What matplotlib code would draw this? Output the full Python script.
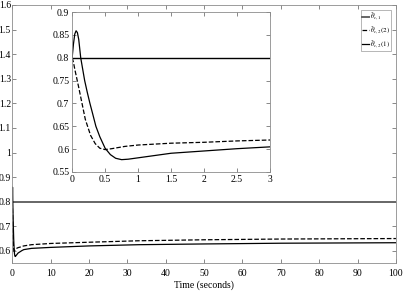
import matplotlib.pyplot as plt

plt.rcParams['font.family'] = ['Liberation Serif', 'DejaVu Serif']
plt.rcParams['mathtext.fontset'] = 'stix'

# read-off points (time in seconds, estimate value)
t_c2_2 = [0, 0.02, 0.04, 0.07, 0.1, 0.15, 0.2, 0.28, 0.35, 0.42, 0.5, 0.6, 0.8, 1.0, 1.5, 2.0, 2.5, 3.0,
          5, 10, 20, 33, 50, 70, 100]
v_c2_2 = [0.8, 0.79, 0.775, 0.755, 0.735, 0.70, 0.665, 0.63, 0.612, 0.602, 0.599, 0.601, 0.606, 0.609,
          0.613, 0.615, 0.618, 0.62, 0.625, 0.63, 0.635, 0.641, 0.645, 0.648, 0.65]

t_c2_1 = [0, 0.02, 0.04, 0.06, 0.08, 0.1, 0.13, 0.16, 0.19, 0.23, 0.27, 0.31, 0.36, 0.42, 0.5, 0.58,
          0.66, 0.75, 0.85, 1.0, 1.5, 2.0, 2.5, 3.0, 5, 10, 20, 33, 50, 70, 100]
v_c2_1 = [0.8, 0.83, 0.852, 0.859, 0.855, 0.84, 0.8, 0.775, 0.75, 0.724, 0.7, 0.678, 0.65, 0.627, 0.602,
          0.588, 0.58, 0.577, 0.578, 0.581, 0.591, 0.596, 0.601, 0.605, 0.61, 0.614, 0.62, 0.625, 0.628,
          0.631, 0.633]

t_c1 = [0, 100]
v_c1 = [0.8, 0.8]

labels = [r'$\hat{\theta}_{c,1}$', r'$\hat{\theta}_{c,2}(2)$', r'$\hat{\theta}_{c,2}(1)$']

fig = plt.figure(figsize=(4.03, 2.94), dpi=100)
ax = fig.add_axes([0.0305, 0.105, 0.952, 0.878])
l1, = ax.plot(t_c1, v_c1, color='0.4', lw=1.4, label=labels[0])
l2, = ax.plot(t_c2_2, v_c2_2, color='k', ls='--', lw=0.9, label=labels[1])
l3, = ax.plot(t_c2_1, v_c2_1, color='k', lw=0.9, label=labels[2])
ax.set_xlim(0, 100)
ax.set_ylim(0.55, 1.6)
ax.set_xticks(range(0, 101, 10))
ax.set_yticks([0.6, 0.7, 0.8, 0.9, 1.0, 1.1, 1.2, 1.3, 1.4, 1.5, 1.6])
ax.set_yticklabels(['0.6', '0.7', '0.8', '0.9', '1', '1.1', '1.2', '1.3', '1.4', '1.5', '1.6'])
ax.set_xlabel('Time (seconds)', fontsize=7, labelpad=2)
ax.tick_params(axis='both', direction='in', top=True, right=True, labelsize=7, length=3, width=0.5,
               colors='0.35', labelcolor='k')
ax.tick_params(axis='y', pad=1)
ax.tick_params(axis='x', pad=4)
for s in ax.spines.values():
    s.set_color('0.55')
    s.set_linewidth(0.6)
leg = ax.legend(handles=[l1, l2, l3], loc='upper right', fontsize=5, frameon=True, fancybox=False,
                edgecolor='0.5', handlelength=1.0, handletextpad=0.2, borderpad=0.15, labelspacing=0.2,
                borderaxespad=0.7)
leg.get_frame().set_linewidth(0.5)

ins = fig.add_axes([0.179, 0.415, 0.491, 0.544])
ins.plot(t_c1, v_c1, color='k', lw=1.0)
ins.plot(t_c2_2, v_c2_2, color='k', ls='--', lw=0.9)
ins.plot(t_c2_1, v_c2_1, color='k', lw=0.9)
ins.set_xlim(0, 3)
ins.set_ylim(0.55, 0.9)
ins.set_xticks([0, 0.5, 1, 1.5, 2, 2.5, 3])
ins.set_xticklabels(['0', '0.5', '1', '1.5', '2', '2.5', '3'])
ins.set_yticks([0.55, 0.6, 0.65, 0.7, 0.75, 0.8, 0.85, 0.9])
ins.set_yticklabels(['0.55', '0.6', '0.65', '0.7', '0.75', '0.8', '0.85', '0.9'])
ins.tick_params(direction='in', top=True, right=True, labelsize=7, length=3, width=0.5,
                colors='0.35', labelcolor='k', pad=2)
for s in ins.spines.values():
    s.set_color('0.55')
    s.set_linewidth(0.6)

fig.savefig('out.png', dpi=100)
